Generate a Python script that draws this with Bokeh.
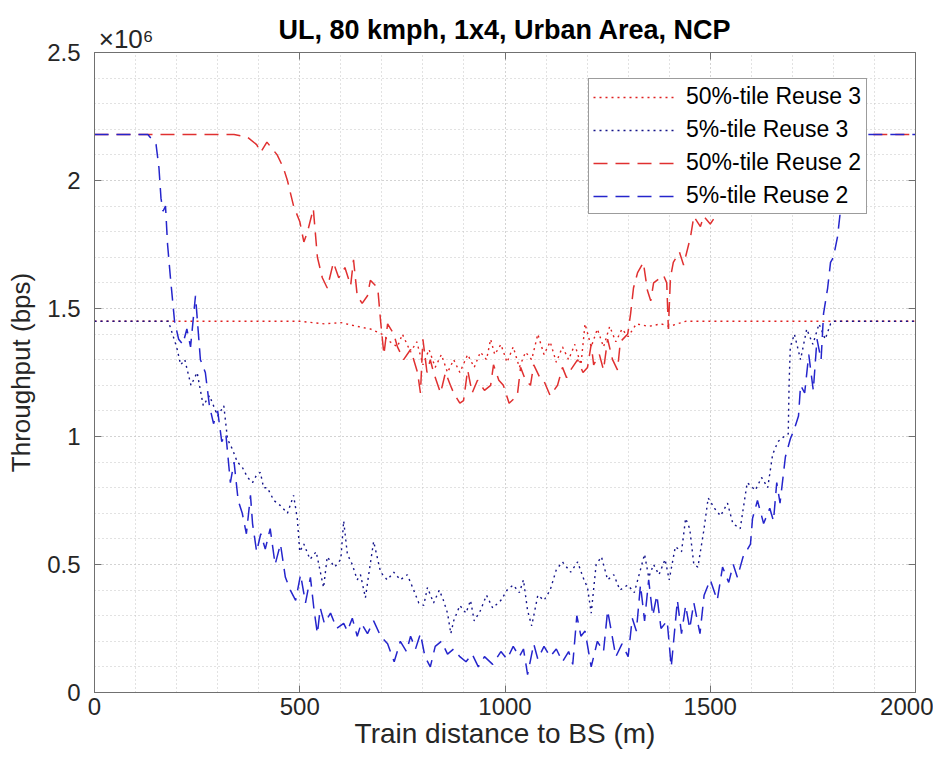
import numpy as np
from bokeh.plotting import figure
from bokeh.models import (Range1d, SingleIntervalTicker, FixedTicker, LinearAxis, Legend, LegendItem,
                          CustomJSTickFormatter)
from bokeh.embed import file_html
from bokeh.resources import INLINE

# ---------------- data (throughput in units of 1e6 bps) ----------------
r3_x = [0, 500, 560, 600, 640, 672, 700, 720, 738, 750, 770, 785, 800, 815, 830, 845, 860, 875, 890,
        909, 925, 940, 955, 965, 975, 990, 1005, 1020, 1035, 1050, 1065, 1080, 1095, 1110, 1125,
        1140, 1155, 1170, 1185, 1195, 1210, 1225, 1240, 1255, 1270, 1285, 1300, 1320, 1350, 1380,
        1400, 1440, 2000]
r3_y = [1.45, 1.45, 1.44, 1.445, 1.43, 1.42, 1.40, 1.37, 1.35, 1.40, 1.33, 1.37, 1.28, 1.34, 1.27,
        1.32, 1.25, 1.30, 1.25, 1.32, 1.27, 1.33, 1.30, 1.38, 1.32, 1.36, 1.29, 1.35, 1.27, 1.33,
        1.30, 1.40, 1.32, 1.37, 1.29, 1.35, 1.30, 1.36, 1.28, 1.44, 1.35, 1.42, 1.35, 1.43, 1.37,
        1.42, 1.39, 1.44, 1.43, 1.44, 1.43, 1.45, 1.45]

b3_x = [0, 180, 190, 200, 210, 220, 235, 250, 265, 280, 300, 315, 324, 336, 348, 360, 373, 385,
        395, 404, 412, 421, 437, 453, 470, 485, 494, 500, 510, 525, 540, 558, 567, 585, 600, 607,
        616, 628, 640, 648, 660, 667, 680, 697, 713, 729, 745, 762, 775, 790, 802, 811, 826, 840,
        850, 860, 868, 875, 890, 905, 916, 925, 940, 955, 970, 990, 1005, 1020, 1035, 1045, 1055,
        1065, 1080, 1095, 1110, 1125, 1140, 1160, 1177, 1190, 1201, 1210, 1222, 1235, 1250, 1265,
        1280, 1299, 1315, 1330, 1340, 1350, 1362, 1375, 1390, 1400, 1415, 1430, 1440, 1450, 1460,
        1470, 1484, 1495, 1510, 1525, 1542, 1555, 1573, 1590, 1610, 1625, 1640, 1652, 1665, 1680,
        1690, 1692, 1695, 1705, 1720, 1735, 1750, 1765, 1780, 1793, 1800, 2000]
b3_y = [1.45, 1.45, 1.40, 1.35, 1.28, 1.30, 1.20, 1.25, 1.12, 1.16, 1.08, 1.12, 0.99, 0.95, 0.90,
        0.88, 0.84, 0.82, 0.85, 0.86, 0.80, 0.80, 0.75, 0.73, 0.70, 0.77, 0.68, 0.55, 0.58, 0.52,
        0.55, 0.41, 0.53, 0.49, 0.52, 0.67, 0.54, 0.50, 0.44, 0.46, 0.37, 0.45, 0.59, 0.47, 0.44,
        0.47, 0.44, 0.46, 0.41, 0.35, 0.34, 0.41, 0.35, 0.40, 0.36, 0.31, 0.23, 0.28, 0.34, 0.31,
        0.36, 0.28, 0.32, 0.38, 0.33, 0.36, 0.40, 0.42, 0.39, 0.44, 0.32, 0.26, 0.38, 0.36, 0.40,
        0.48, 0.51, 0.47, 0.51, 0.45, 0.41, 0.31, 0.50, 0.53, 0.44, 0.46, 0.40, 0.42, 0.39, 0.48,
        0.54, 0.45, 0.50, 0.46, 0.52, 0.44, 0.57, 0.55, 0.68, 0.64, 0.50, 0.49, 0.63, 0.76, 0.72,
        0.69, 0.74, 0.66, 0.64, 0.82, 0.79, 0.84, 0.80, 0.93, 0.98, 1.00, 1.01, 1.20, 1.35, 1.40,
        1.30, 1.42, 1.36, 1.44, 1.38, 1.44, 1.45, 1.45]

r2_x = [0, 340, 372, 395, 405, 420, 445, 460, 470, 485, 500, 510, 519, 533, 543, 555, 567, 582, 595,
        610, 624, 631, 640, 652, 665, 672, 690, 697, 705, 714, 729, 738, 753, 770, 787, 794, 800,
        810, 818, 826, 843, 855, 867, 875, 890, 899, 909, 920, 933, 950, 965, 972, 985, 996, 1010,
        1030, 1038, 1050, 1062, 1070, 1085, 1094, 1110, 1128, 1140, 1150, 1160, 1177, 1190, 1201,
        1210, 1216, 1230, 1240, 1250, 1262, 1274, 1281, 1299, 1306, 1313, 1323, 1337, 1347, 1355,
        1362, 1386, 1394, 1398, 1403, 1410, 1425, 1435, 1452, 1460, 1476, 1484, 1500, 1517, 1540,
        1570, 1610, 1650, 2000]
r2_y = [2.18, 2.18, 2.17, 2.14, 2.11, 2.15, 2.10, 2.05, 2.00, 1.90, 1.84, 1.76, 1.80, 1.89, 1.70,
        1.62, 1.58, 1.68, 1.62, 1.66, 1.59, 1.69, 1.55, 1.52, 1.55, 1.61, 1.58, 1.45, 1.32, 1.44,
        1.40, 1.35, 1.30, 1.34, 1.25, 1.17, 1.38, 1.25, 1.30, 1.25, 1.17, 1.25, 1.20, 1.17, 1.13,
        1.14, 1.26, 1.17, 1.22, 1.18, 1.20, 1.28, 1.22, 1.20, 1.13, 1.16, 1.27, 1.22, 1.20, 1.28,
        1.23, 1.22, 1.16, 1.20, 1.27, 1.23, 1.26, 1.30, 1.25, 1.27, 1.36, 1.28, 1.32, 1.26, 1.38,
        1.30, 1.26, 1.37, 1.40, 1.48, 1.58, 1.64, 1.68, 1.57, 1.53, 1.60, 1.63, 1.60, 1.42, 1.62,
        1.68, 1.72, 1.67, 1.78, 1.86, 1.82, 1.86, 1.83, 1.87, 1.95, 2.05, 2.13, 2.18, 2.18]

b2_x = [0, 130, 150, 157, 162, 167, 173, 178, 185, 195, 205, 215, 225, 234, 246, 258, 270, 280, 290,
        300, 310, 320, 331, 340, 350, 360, 370, 380, 385, 395, 405, 416, 428, 440, 453, 465, 477,
        490, 502, 514, 526, 535, 543, 550, 560, 575, 590, 607, 616, 628, 640, 650, 665, 680, 697,
        714, 730, 745, 760, 770, 782, 794, 805, 818, 830, 845, 860, 875, 890, 905, 920, 935, 950,
        970, 990, 1005, 1020, 1035, 1045, 1055, 1070, 1080, 1095, 1110, 1125, 1140, 1155, 1165,
        1175, 1185, 1195, 1210, 1225, 1240, 1250, 1260, 1270, 1285, 1300, 1310, 1320, 1330, 1340,
        1350, 1360, 1370, 1380, 1395, 1405, 1420, 1430, 1440, 1450, 1460, 1475, 1485, 1500, 1517,
        1530, 1545, 1556, 1566, 1580, 1598, 1603, 1615, 1630, 1645, 1654, 1662, 1670, 1683, 1695,
        1705, 1715, 1720, 1730, 1740, 1751, 1760, 1770, 1776, 1786, 1793, 1800, 1810, 1817, 1830,
        1850, 2000]
b2_y = [2.18, 2.18, 2.14, 2.05, 1.93, 1.88, 1.90, 1.75, 1.62, 1.45, 1.38, 1.36, 1.42, 1.35, 1.55,
        1.30, 1.25, 1.12, 1.05, 1.10, 0.98, 1.01, 0.82, 0.90, 0.75, 0.70, 0.62, 0.77, 0.66, 0.55,
        0.62, 0.56, 0.64, 0.50, 0.58, 0.45, 0.40, 0.36, 0.46, 0.35, 0.45, 0.32, 0.23, 0.33, 0.27,
        0.31, 0.25, 0.27, 0.24, 0.29, 0.22, 0.27, 0.23, 0.28, 0.22, 0.19, 0.12, 0.20, 0.16, 0.22,
        0.17, 0.23, 0.14, 0.10, 0.18, 0.20, 0.15, 0.17, 0.14, 0.12, 0.15, 0.10, 0.14, 0.11, 0.16,
        0.13, 0.18, 0.14, 0.17, 0.07, 0.19, 0.13, 0.18, 0.14, 0.17, 0.12, 0.16, 0.11, 0.30, 0.22,
        0.24, 0.10, 0.20, 0.16, 0.32, 0.23, 0.14, 0.19, 0.14, 0.29, 0.24, 0.42, 0.28, 0.44, 0.30,
        0.38, 0.25, 0.28, 0.10, 0.36, 0.23, 0.34, 0.25, 0.35, 0.23, 0.38, 0.44, 0.36, 0.49, 0.43,
        0.50, 0.45, 0.53, 0.58, 0.68, 0.75, 0.66, 0.72, 0.67, 0.82, 0.74, 0.92, 0.99, 1.03, 1.08,
        1.20, 1.17, 1.32, 1.18, 1.38, 1.30, 1.48, 1.58, 1.68, 1.70, 1.78, 1.88, 2.02, 2.18, 2.18]

labels = ["50%-tile Reuse 3", "5%-tile Reuse 3", "50%-tile Reuse 2", "5%-tile Reuse 2"]
title_text = "UL, 80 kmph, 1x4, Urban Area, NCP"
SCALE = 1e6

FONT = "Liberation Sans"
AX = "#707070"
TXT = "#262626"

p = figure(width=933, height=764, x_range=Range1d(0, 2000), y_range=Range1d(0, 2.5e6),
           output_backend="svg", toolbar_location=None,
           min_border_left=94, min_border_right=18, min_border_top=52, min_border_bottom=72)
p.title = None
p.background_fill_color = "white"
p.border_fill_color = "white"
p.outline_line_color = AX
p.outline_line_width = 1

xt = SingleIntervalTicker(interval=500, num_minor_ticks=5)
yt = SingleIntervalTicker(interval=500000, num_minor_ticks=5)
xax = p.below[0]
yax = p.left[0]
xax.ticker = xt
yax.ticker = yt
yax.formatter = CustomJSTickFormatter(code="return String(Math.round(tick/1e6*1000)/1000);")

for ax in (xax, yax):
    ax.axis_line_color = AX
    ax.major_tick_line_color = AX
    ax.major_tick_in = 7
    ax.major_tick_out = 0
    ax.minor_tick_line_color = None
    ax.major_label_text_font = FONT
    ax.major_label_text_font_size = "24px"
    ax.major_label_text_color = TXT
    ax.axis_label_text_font = FONT
    ax.axis_label_text_font_style = "normal"
    ax.axis_label_text_color = TXT

xax.axis_label = "Train distance to BS (m)"
yax.axis_label = "Throughput (bps)"
xax.axis_label_text_font_size = "28px"
yax.axis_label_text_font_size = "26px"
xax.major_label_standoff = 1
xax.axis_label_standoff = 0
yax.major_label_standoff = 10
yax.axis_label_standoff = 8

# mirrored tick marks on top and right (labels not drawn)
for loc, tk in (("above", FixedTicker(ticks=[500, 1000, 1500])),
                ("right", FixedTicker(ticks=[500000, 1000000, 1500000, 2000000]))):
    a = LinearAxis(ticker=tk)
    a.axis_line_color = AX
    a.major_tick_line_color = AX
    a.major_tick_in = 7
    a.major_tick_out = 0
    a.minor_tick_line_color = None
    a.major_label_text_font_size = "1px"
    a.major_label_text_color = None
    a.major_label_standoff = 0
    a.axis_label = None
    p.add_layout(a, loc)

# exponent label "x10^6" at the top-left corner (tick label) and the chart title (axis label)
ex = LinearAxis(ticker=FixedTicker(ticks=[77]),
                formatter=CustomJSTickFormatter(code="return '\\u00d710\\u2076';"))
ex.axis_line_color = None
ex.major_tick_line_color = None
ex.minor_tick_line_color = None
ex.major_label_text_font = FONT
ex.major_label_text_font_size = "26px"
ex.major_label_text_color = TXT
ex.major_label_standoff = -7
ex.axis_label = title_text
ex.axis_label_text_font = FONT
ex.axis_label_text_font_size = "27px"
ex.axis_label_text_font_style = "bold"
ex.axis_label_text_color = "#000000"
ex.axis_label_standoff = -24
p.add_layout(ex, "above")

for g in (p.xgrid[0], p.ygrid[0]):
    g.grid_line_color = "#c4c4c4"
    g.grid_line_dash = "1 3"
    g.grid_line_width = 1
    g.minor_grid_line_color = "#c4c4c4"
    g.minor_grid_line_dash = "1 3"
    g.minor_grid_line_width = 1
p.xgrid.ticker = xt
p.ygrid.ticker = yt

series = [
    (r3_x, r3_y, "#e02020", "2 4", 1.4),
    (b3_x, b3_y, "#14148a", "2 4", 1.4),
    (r2_x, r2_y, "#e03030", "14 8", 1.5),
    (b2_x, b2_y, "#2525cc", "14 8", 1.5),
]
items = []
for (xs, ys, col, dash, w), lab in zip(series, labels):
    r = p.line(x=xs, y=(np.array(ys) * SCALE).tolist(), line_color=col, line_dash=dash, line_width=w)
    items.append(LegendItem(label=lab, renderers=[r]))

legend = Legend(items=items)
legend.label_text_font = FONT
legend.label_text_font_size = "23px"
legend.label_text_color = "#000000"
legend.border_line_color = "#3a3a3a"
legend.border_line_width = 1
legend.background_fill_color = "white"
legend.background_fill_alpha = 1
legend.glyph_width = 84
legend.glyph_height = 20
legend.label_height = 20
legend.label_width = 176
legend.spacing = 6
legend.padding = 4
legend.label_standoff = 9
legend.margin = 0
legend.location = (494, 478)
p.add_layout(legend)

open("out.html", "w", encoding="utf-8").write(file_html(p, INLINE))
